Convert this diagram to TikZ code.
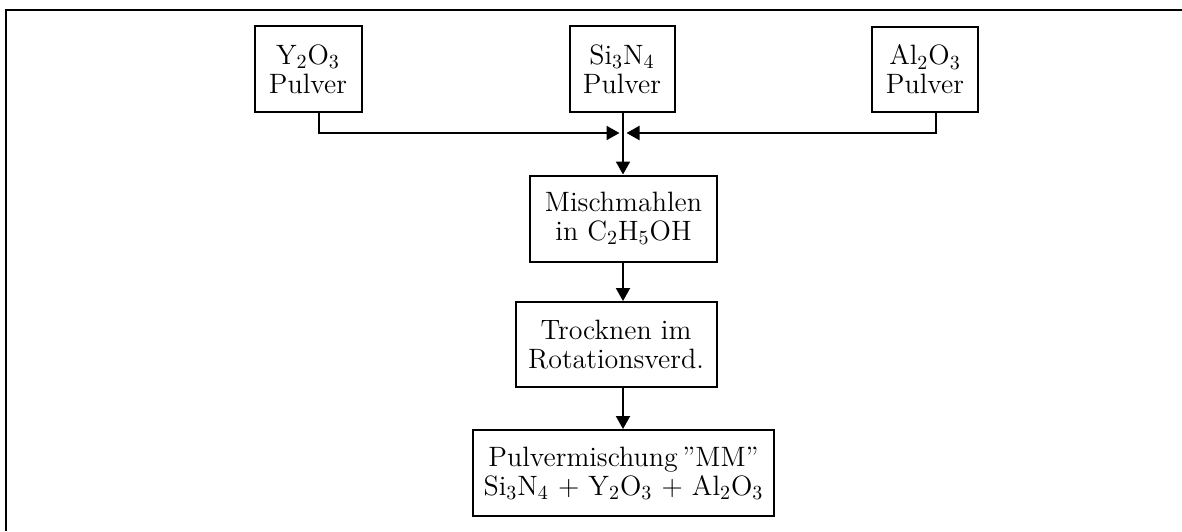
\documentclass[tikz,border=0pt]{standalone}
\usetikzlibrary{arrows.meta}
\begin{document}
\begin{tikzpicture}[x=0.5pt,y=-0.5pt,
  box/.style={draw,line width=1pt,align=center,inner sep=0pt,
    font=\fontsize{14}{14.5}\selectfont},
  conn/.style={line width=1pt},
  arr/.style={line width=1pt,-{Triangle[length=6.5pt,width=7pt]}}]
\useasboundingbox (0,0) rectangle (1182,531);
\coordinate (fl) at (6,531);
\coordinate (fc) at (6,10);
\coordinate (fr) at (1182,10);
\draw[line width=1.1pt] (fl) -- (fc) -- (fr);
\node[box,minimum width=53.5pt,minimum height=43pt] (y2o3) at (308,69) {Y$_2$O$_3$\\Pulver};
\node[box,minimum width=52.5pt,minimum height=43pt] (si3n4) at (622,69) {Si$_3$N$_4$\\Pulver};
\node[box,minimum width=53pt,minimum height=42.5pt] (al2o3) at (925,69.5) {Al$_2$O$_3$\\Pulver};
\node[box,minimum width=93.5pt,minimum height=43pt] (misch) at (623.5,218.5) {Mischmahlen\\in C$_2$H$_5$OH};
\node[box,minimum width=100.5pt,minimum height=42.5pt] (trock) at (616,344.5) {Trocknen im\\Rotationsverd.};
\node[box,minimum width=150.5pt,minimum height=43pt] (final) at (623.5,473) {Pulvermischung\,''MM''\\Si$_3$N$_4$ + Y$_2$O$_3$ + Al$_2$O$_3$};
\coordinate (j) at (623,133);
\coordinate (jl) at (619.5,133);
\coordinate (jr) at (626.5,133);
\draw[arr] ([xshift=5.5pt]y2o3.south) |- (jl);
\draw[arr] ([xshift=5.5pt]al2o3.south) |- (jr);
\draw[conn] (si3n4.south -| j) -- (j);
\draw[arr] (j) -- (j |- misch.north);
\draw[arr] (j |- misch.south) -- (j |- trock.north);
\draw[arr] (j |- trock.south) -- (j |- final.north);
\end{tikzpicture}
\end{document}
